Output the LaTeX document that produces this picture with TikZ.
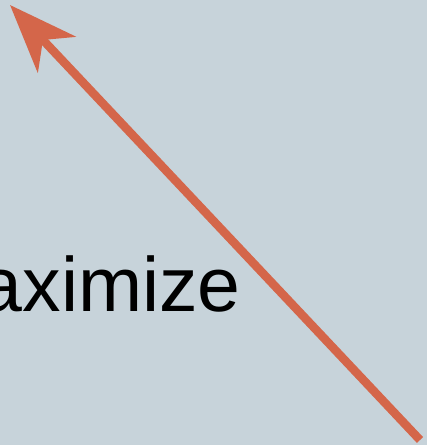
\documentclass[tikz,border=0pt]{standalone}
\usepackage{fontspec}
\setmainfont{Liberation Sans}
\usetikzlibrary{arrows.meta}
\definecolor{bg}{RGB}{199,211,218}
\definecolor{arr}{RGB}{212,102,74}
\begin{document}
\begin{tikzpicture}[x=1pt,y=-1pt]
\tikzset{arrowline/.style={draw=arr,line width=8.5pt,-{Stealth[length=68pt,width=52pt,inset=20pt]}},
  word/.style={inner sep=0pt,font=\fontsize{77}{80}\selectfont,anchor=base east}}
\fill[bg] (0,0) rectangle (427,445);
\useasboundingbox (0,0) rectangle (427,445);
\clip (0,0) rectangle (427,445);
\node[word] (w) at (241,311) {maximize};
\coordinate (start) at (420,440);
\coordinate (tip) at (10,5);
\draw[arrowline] (start) -- (tip);
\end{tikzpicture}
\end{document}
